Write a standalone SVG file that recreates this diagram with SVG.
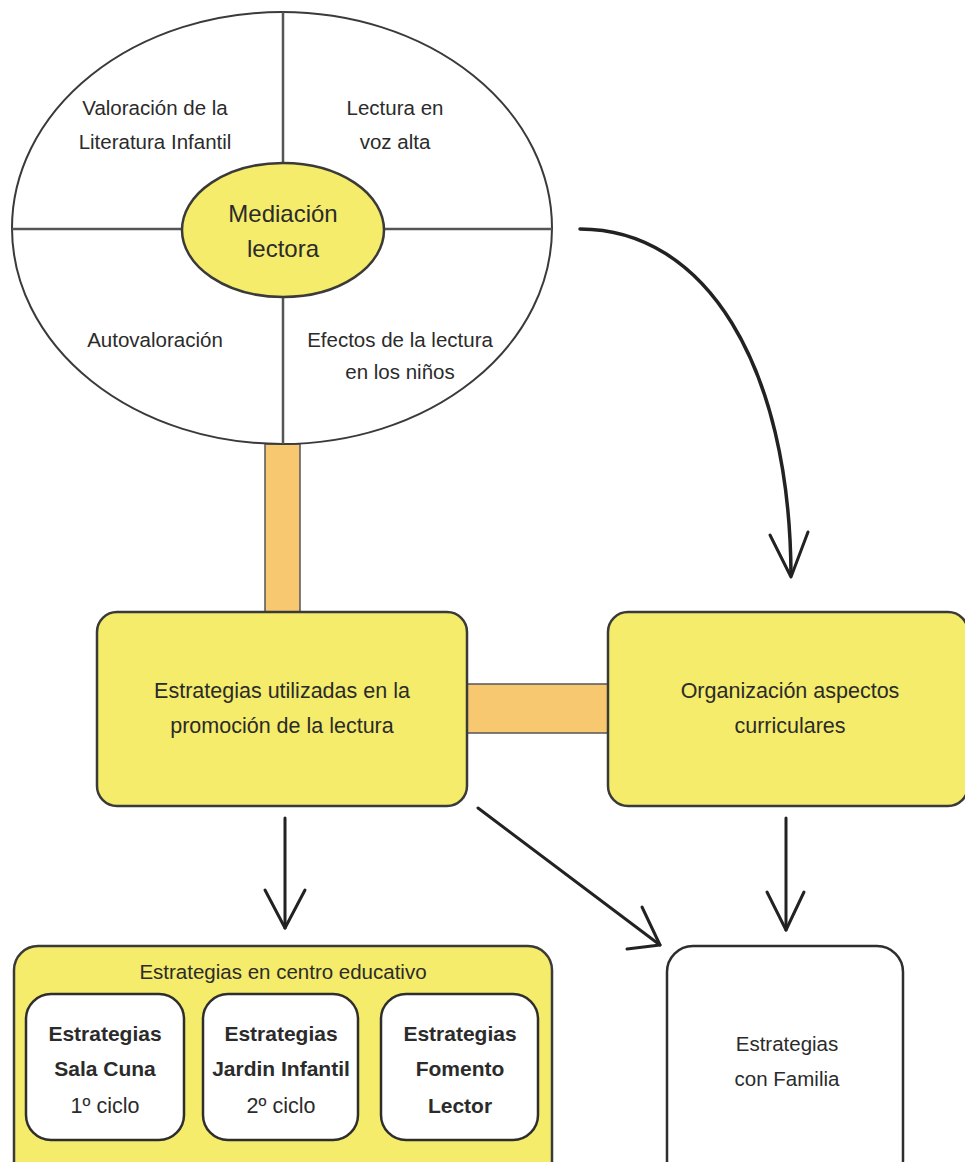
<svg xmlns="http://www.w3.org/2000/svg" width="965" height="1162" viewBox="0 0 965 1162">
  <defs>
    <style>
      .txt { font-family: "Liberation Sans", "DejaVu Sans", sans-serif; fill: #2b2b2b; text-anchor: middle; }
      .t20 { font-size: 20.5px; }
      .t22 { font-size: 21.5px; }
      .t24 { font-size: 24px; }
      .tb { font-size: 21px; font-weight: bold; }
      .yel { fill: #f4ec6a; stroke: #3a3a3a; stroke-width: 2.5; }
      .wht { fill: #ffffff; stroke: #2e2e2e; stroke-width: 2.5; }
      .bar { fill: #f8c870; stroke: #555555; stroke-width: 1.5; }
      .div { stroke: #555555; stroke-width: 2.5; fill: none; }
      .con { stroke: #222222; stroke-width: 3; fill: none; stroke-linecap: round; stroke-linejoin: round; }
    </style>
  </defs>

  <rect width="965" height="1162" fill="#ffffff"/>

  <!-- connector bars and arrows -->
  <g id="connectors">
    <rect class="bar" x="265" y="444" width="35" height="170"/>
    <rect class="bar" x="465" y="684" width="145" height="49"/>
    <path class="con" d="M580,229 C705,229 790,365 791,575" style="stroke-width:3.5"/>
    <path class="con" d="M770,535 L791,577 L808,532"/>
    <path class="con" d="M285,818 L285,928"/>
    <path class="con" d="M265,890 L285,928 L305,890"/>
    <path class="con" d="M786,818 L786,930"/>
    <path class="con" d="M767,892 L786,930 L804,892"/>
    <path class="con" d="M478,808 L660,945"/>
    <path class="con" d="M642,907 L660,945 L627,949"/>
  </g>

  <!-- mediation ellipse with four quadrants -->
  <g id="mediacion">
    <ellipse cx="282" cy="228" rx="270" ry="216" fill="#ffffff" stroke="#3a3a3a" stroke-width="2"/>
    <line class="div" x1="283" y1="12" x2="283" y2="444"/>
    <line class="div" x1="12" y1="229" x2="552" y2="229"/>
    <ellipse cx="283" cy="230" rx="101" ry="67" class="yel"/>
    <text class="txt t24" x="283" y="222">Mediación</text>
    <text class="txt t24" x="283" y="257">lectora</text>
    <text class="txt t20" x="155" y="115">Valoración de la</text>
    <text class="txt t20" x="155" y="149">Literatura Infantil</text>
    <text class="txt t20" x="395" y="115">Lectura en</text>
    <text class="txt t20" x="395" y="149">voz alta</text>
    <text class="txt t20" x="155" y="347">Autovaloración</text>
    <text class="txt t20" x="400" y="347">Efectos de la lectura</text>
    <text class="txt t20" x="400" y="379">en los niños</text>
  </g>

  <g id="estrategias-promocion">
    <rect class="yel" x="97" y="612" width="370" height="194" rx="20"/>
    <text class="txt t22" x="282" y="698">Estrategias utilizadas en la</text>
    <text class="txt t22" x="282" y="733">promoción de la lectura</text>
  </g>

  <g id="organizacion">
    <rect class="yel" x="608" y="612" width="360" height="194" rx="20"/>
    <text class="txt t22" x="790" y="698">Organización aspectos</text>
    <text class="txt t22" x="790" y="733">curriculares</text>
  </g>

  <g id="centro-educativo">
    <rect class="yel" x="14" y="946" width="538" height="240" rx="24"/>
    <text class="txt t20" x="283" y="979">Estrategias en centro educativo</text>
  </g>

  <g id="sala-cuna">
    <rect class="wht" x="26" y="994" width="158" height="146" rx="25"/>
    <text class="txt tb" x="105" y="1041">Estrategias</text>
    <text class="txt tb" x="105" y="1076">Sala Cuna</text>
    <text class="txt t22" x="105" y="1113">1º ciclo</text>
  </g>

  <g id="jardin-infantil">
    <rect class="wht" x="203" y="994" width="155" height="146" rx="25"/>
    <text class="txt tb" x="281" y="1041">Estrategias</text>
    <text class="txt tb" x="281" y="1076">Jardin Infantil</text>
    <text class="txt t22" x="281" y="1113">2º ciclo</text>
  </g>

  <g id="fomento-lector">
    <rect class="wht" x="381" y="994" width="157" height="146" rx="25"/>
    <text class="txt tb" x="460" y="1041">Estrategias</text>
    <text class="txt tb" x="460" y="1076">Fomento</text>
    <text class="txt tb" x="460" y="1113">Lector</text>
  </g>

  <g id="familia">
    <rect class="wht" x="667" y="946" width="236" height="240" rx="26"/>
    <text class="txt t20" x="787" y="1051">Estrategias</text>
    <text class="txt t20" x="787" y="1086">con Familia</text>
  </g>
</svg>
